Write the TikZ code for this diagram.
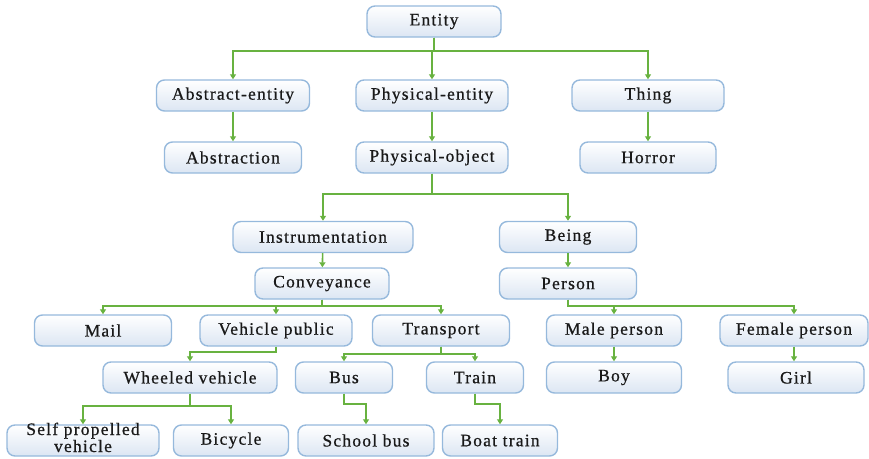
\documentclass[tikz,border=0pt]{standalone}
\usepackage{fontspec}
\setmainfont{Liberation Serif}[LetterSpace=7, FakeBold=0.7]
\usetikzlibrary{arrows.meta}
\definecolor{edgegreen}{RGB}{104,178,64}
\definecolor{boxline}{RGB}{150,185,220}
\definecolor{boxbottom}{RGB}{220,230,243}
\definecolor{ink}{RGB}{25,25,25}
\tikzset{
  box/.style={draw=boxline, line width=1.4pt, rounded corners=8pt,
    top color=white, bottom color=boxbottom, shading angle=0,
    minimum height=31pt, inner sep=0pt, text=ink,
    font=\fontsize{17.5}{17}\selectfont},
  conn/.style={draw=edgegreen, line width=1.6pt,
    -{Triangle[width=6pt,length=5pt]}}
}
\begin{document}
\begin{tikzpicture}[x=1pt,y=-1pt]
\useasboundingbox (0,0) rectangle (869,458);
% level 0 and 1
\node[box, minimum width=134pt] (entity) at (434,21.5) {Entity};
\node[box, minimum width=153pt] (absent) at (233,95.5) {Abstract-entity};
\node[box, minimum width=152pt] (phyent) at (432,95.5) {Physical-entity};
\node[box, minimum width=152pt] (thing) at (648,95.5) {Thing};
\node[box, minimum width=137pt] (abstr) at (233,157.5) {Abstraction};
\node[box, minimum width=152pt] (phyobj) at (432,157.5) {Physical-object};
\node[box, minimum width=136pt] (horror) at (648,157.5) {Horror};
% physical objects
\node[box, minimum width=180pt] (instr) at (323,237) {Instrumentation};
\node[box, minimum width=137pt] (being) at (568,237) {Being};
\node[box, minimum width=134pt] (convey) at (322,283.5) {Conveyance};
\node[box, minimum width=137pt] (person) at (568,283.5) {Person};
% conveyances
\node[box, minimum width=137pt] (mail) at (103,330.5) {Mail};
\node[box, minimum width=152pt] (vehpub) at (276,330.5) {Vehicle public};
\node[box, minimum width=137pt] (transp) at (441,330.5) {Transport};
\node[box, minimum width=135pt] (male) at (614,330.5) {Male person};
\node[box, minimum width=148pt] (female) at (794,330.5) {Female person};
\node[box, minimum width=174pt] (wheeled) at (190,377.5) {Wheeled vehicle};
\node[box, minimum width=97pt] (bus) at (344,377.5) {Bus};
\node[box, minimum width=97pt] (train) at (475,377.5) {Train};
\node[box, minimum width=135pt] (boy) at (614,377.5) {Boy};
\node[box, minimum width=136pt] (girl) at (796,377.5) {Girl};
% leaves
\node[box, minimum width=152pt] (selfprop) at (83,440.5) {};
\node[text=ink, font=\fontsize{17.5}{17}\selectfont, align=center,
  inner sep=0pt, anchor=base] (selfproptxt) at (83,452)
  {Self propelled\\vehicle};
\node[box, minimum width=115pt] (bicycle) at (231,440.5) {Bicycle};
\node[box, minimum width=136pt] (school) at (366,440.5) {School bus};
\node[box, minimum width=115pt] (boat) at (500,440.5) {Boat train};
% connectors
\foreach \c in {absent,phyent,thing}
  \draw[conn] (entity.south) -- ++(0,13) -| (\c.north);
\draw[conn] (absent) -- (abstr);
\draw[conn] (phyent) -- (phyobj);
\draw[conn] (thing) -- (horror);
\foreach \c in {instr,being}
  \draw[conn] (phyobj.south) -- ++(0,20) -| (\c.north);
\draw[conn] (instr) -- (convey);
\draw[conn] (being) -- (person);
\foreach \c in {mail,vehpub,transp}
  \draw[conn] (convey.south) -- ++(0,6) -| (\c.north);
\foreach \c in {male,female}
  \draw[conn] (person.south) -- ++(0,6) -| (\c.north);
\draw[conn] (vehpub.south) -- ++(0,5) -| (wheeled.north);
\foreach \c in {bus,train}
  \draw[conn] (transp.south) -- ++(0,7) -| (\c.north);
\draw[conn] (male) -- (boy);
\draw[conn] (female.south) -- (female.south |- girl.north);
\foreach \c in {selfprop,bicycle}
  \draw[conn] (wheeled.south) -- ++(0,12) -| (\c.north);
\draw[conn] (bus.south) -- ++(0,10) -| (school.north);
\draw[conn] (train.south) -- ++(0,10) -| (boat.north);
\end{tikzpicture}
\end{document}
